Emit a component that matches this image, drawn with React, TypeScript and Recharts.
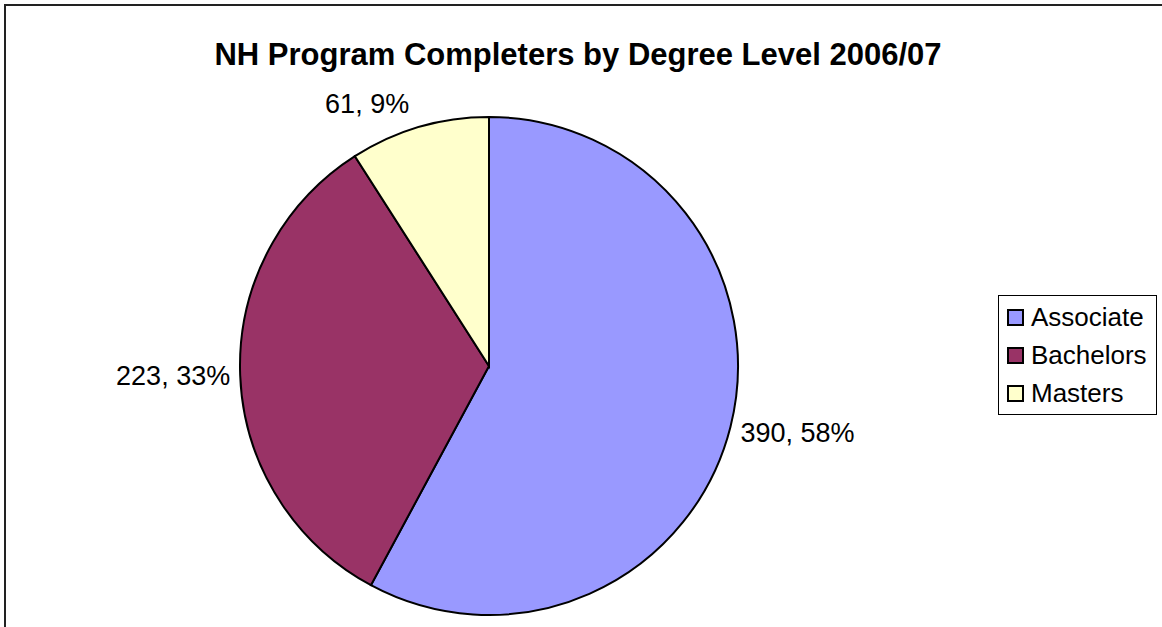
import { Cell, Legend, Pie, PieChart } from "recharts";

const categories = ["Associate", "Bachelors", "Masters"];
const completers = [390, 223, 61];
const percents = [58, 33, 9];
const colors = ["#9999FF", "#993366", "#FFFFCC"];

const data = categories.map((name, i) => ({ name, value: completers[i], pct: percents[i] }));

const FONT = "'Liberation Sans', Arial, sans-serif";
const RAD = Math.PI / 180;
const LABEL_SIZE = 27;

// rough Arial advance widths for label text
const charW: Record<string, number> = { ",": 0.278, " ": 0.278, "%": 0.889 };
const textWidth = (s: string, size: number) =>
  s.split("").reduce((a, c) => a + (charW[c] ?? 0.556), 0) * size;

function renderLabel(props: any) {
  const { cx, cy, midAngle, outerRadius, index } = props;
  const text = `${completers[index]}, ${percents[index]}%`;
  const w = textWidth(text, LABEL_SIZE);
  const h = LABEL_SIZE;
  const gap = 10;
  const cos = Math.cos(-midAngle * RAD);
  const sin = Math.sin(-midAngle * RAD);
  const px = cx + outerRadius * cos;
  const py = cy + outerRadius * sin;
  const x = px + Math.sign(cos) * (w / 2 + gap);
  const y = py + sin * (h / 2 + gap);
  return (
    <text
      x={x}
      y={y}
      textAnchor="middle"
      dominantBaseline="central"
      fontFamily={FONT}
      fontSize={LABEL_SIZE}
      fill="#000"
    >
      {text}
    </text>
  );
}

function LegendBox() {
  return (
    <div
      style={{
        boxSizing: "border-box",
        width: 159,
        border: "1px solid #000",
        padding: "2px 0 2px 8px",
        background: "#fff",
        fontFamily: FONT,
        fontSize: 26,
        lineHeight: "38px",
        color: "#000",
      }}
    >
      {categories.map((c, i) => (
        <div key={c} style={{ display: "flex", alignItems: "center" }}>
          <span
            style={{
              display: "inline-block",
              width: 13,
              height: 13,
              background: colors[i],
              border: "2px solid #000",
              marginRight: 7,
            }}
          />
          {c}
        </div>
      ))}
    </div>
  );
}

export default function App() {
  return (
    <div
      style={{
        position: "absolute",
        left: 0,
        top: 0,
        width: 1162,
        height: 627,
        overflow: "hidden",
        background: "#fff",
      }}
    >
      <div
        style={{
          position: "absolute",
          left: 4,
          top: 4,
          width: 1200,
          height: 700,
          borderTop: "2px solid #222",
          borderLeft: "2px solid #222",
        }}
      />
      <div
        style={{
          position: "absolute",
          left: 0,
          top: 37,
          width: 1156,
          textAlign: "center",
          fontFamily: FONT,
          fontWeight: "bold",
          fontSize: 31,
          whiteSpace: "nowrap",
        }}
      >
        NH Program Completers by Degree Level 2006/07
      </div>
      <PieChart
        width={1162}
        height={627}
        margin={{ top: 0, right: 0, bottom: 0, left: 0 }}
        style={{ position: "absolute", left: 0, top: 0 }}
      >
        <Pie
          data={data}
          dataKey="value"
          nameKey="name"
          cx={489}
          cy={366}
          outerRadius={249}
          startAngle={90}
          endAngle={-270}
          stroke="#000"
          strokeWidth={2}
          label={renderLabel}
          labelLine={false}
          isAnimationActive={false}
        >
          {data.map((d, i) => (
            <Cell key={d.name} fill={colors[i]} />
          ))}
        </Pie>
        <Legend
          content={<LegendBox />}
          wrapperStyle={{ position: "absolute", left: 998, top: 295, width: "auto", height: "auto" }}
        />
      </PieChart>
    </div>
  );
}
